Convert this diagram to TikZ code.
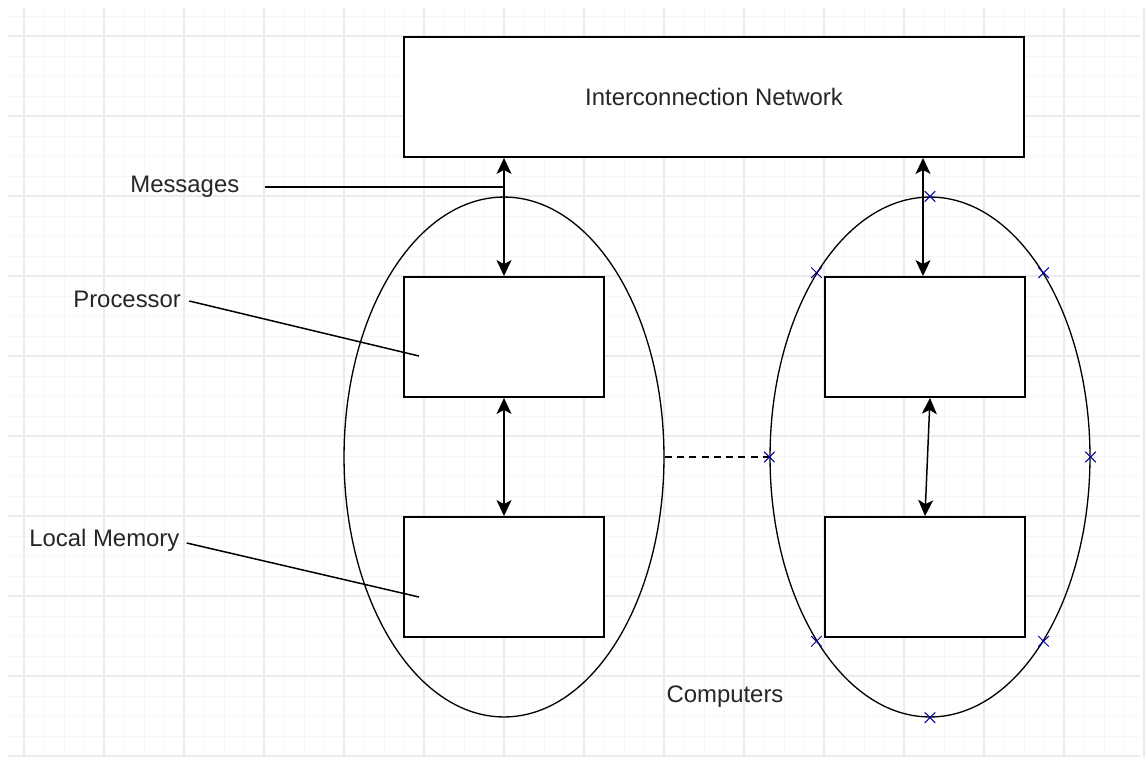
\documentclass[tikz,border=0pt]{standalone}
\usepackage{fontspec}
\setmainfont{Liberation Sans}
\usepackage{tikz}
\usetikzlibrary{positioning,arrows.meta,shapes.geometric,shapes.misc}

\begin{document}
\begin{tikzpicture}[
  x=0.02cm,y=-0.02cm,
  minorgrid/.style={gray!7,line width=0.5pt},
  majorgrid/.style={gray!16,line width=0.6pt},
  unit/.style={rectangle,draw,fill=white,line width=1.1pt,minimum width=4cm,minimum height=2.4cm,inner sep=0pt},
  computer/.style={ellipse,draw,line width=0.75pt,minimum width=6.4cm,minimum height=10.4cm,inner sep=0pt},
  biarrow/.style={{Stealth[length=0.32cm,width=0.3cm,inset=0.08cm]}-{Stealth[length=0.32cm,width=0.3cm,inset=0.08cm]},line width=0.85pt},
  leader/.style={line width=0.85pt},
  lbl/.style={font=\fontsize{13.6pt}{16pt}\selectfont,text=black!85,inner sep=0pt},
  xmark/.style={cross out,draw=blue!60!black,line width=0.55pt,minimum size=0.19cm,inner sep=0pt},
]
\useasboundingbox (0,0) rectangle (1145,761);

% === Background grid ===
\foreach \gx in {24,44,...,1144} \draw[minorgrid] (\gx,8) -- (\gx,757);
\foreach \gy in {16,36,...,756} \draw[minorgrid] (8,\gy) -- (1140,\gy);
\foreach \gx in {24,104,...,1144} \draw[majorgrid] (\gx,8) -- (\gx,757);
\foreach \gy in {36,116,...,756} \draw[majorgrid] (8,\gy) -- (1140,\gy);

% === Computers ===
\node[computer] (lcomp) at (504,457) {};
\node[computer] (rcomp) at (930,457) {};

% === Network ===
\node[unit,minimum width=12.4cm,lbl] (net) at (714,97) {Interconnection Network};

% === Processors and memories ===
\node[unit] (lproc) at (504,337) {};
\node[unit] (lmem) at (504,577) {};
\node[unit] (rproc) at (925,337) {};
\node[unit] (rmem) at (925,577) {};

% === Links ===
\draw[biarrow] (net.south -| lproc.north) -- (lproc.north);
\draw[biarrow] ([xshift=-0.04cm]net.south -| rproc.north) -- ([xshift=-0.04cm]rproc.north);
\draw[biarrow] (lproc.south) -- (lmem.north);
\draw[biarrow] ([xshift=0.1cm]rproc.south) -- (rmem.north);
\draw[dashed,line width=0.85pt,dash pattern=on 4pt off 3pt] (lcomp.east) -- (rcomp.west);

% === Labels ===
\node[lbl,anchor=west] (msglbl) at (130,187) {Messages};
\node[lbl,anchor=west] (proclbl) at (73,299) {Processor};
\node[lbl,anchor=west] (memlbl) at (29,540) {Local Memory};
\node[lbl] (complbl) at (725,697) {Computers};

\draw[leader] ([xshift=0.5cm]msglbl.east) -- (msglbl.east -| lproc.north);
\draw[leader] ([xshift=0.16cm,yshift=-0.04cm]proclbl.east) -- ([xshift=0.32cm,yshift=-1.6cm]lproc.north west);
\draw[leader] ([xshift=0.14cm,yshift=-0.06cm]memlbl.east) -- ([xshift=0.32cm,yshift=-1.62cm]lmem.north west);

% === Selection marks ===
\foreach \pos in {north,north east,east,south east,south,south west,west,north west}
  \node[xmark] (mk-\pos) at (rcomp.\pos) {};

\end{tikzpicture}
\end{document}
